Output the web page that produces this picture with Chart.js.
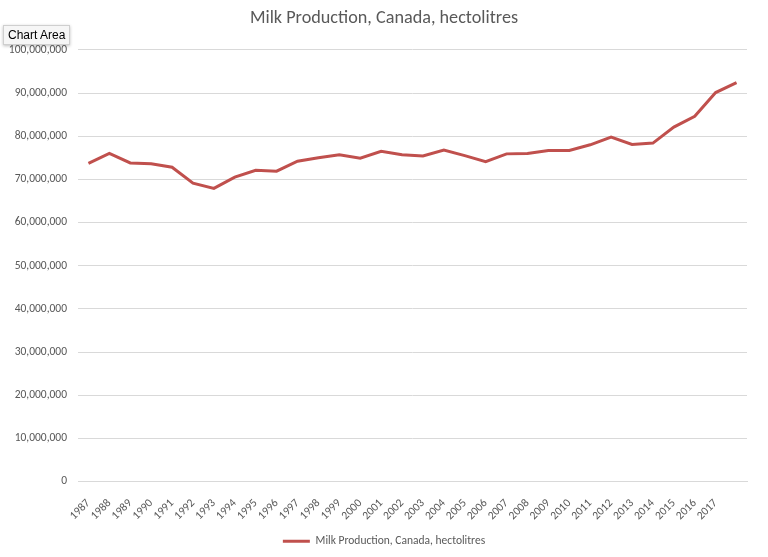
<!DOCTYPE html>
<html>
<head>
<meta charset="utf-8">
<script src="https://cdn.jsdelivr.net/npm/chart.js@4"></script>
<style>
  body { margin: 0; background: #fff; }
  #wrap { position: relative; width: 768px; height: 557px; }
  #tip {
    position: absolute; left: 3px; top: 25px; padding: 2px 4px;
    font: 12px "Liberation Sans", Arial, sans-serif; color: #000;
    background: #f6f6f6; border: 1px solid #cfcfcf;
    box-shadow: 0 1px 3px rgba(0,0,0,0.25);
  }
</style>
</head>
<body>
<div id="wrap">
  <canvas id="chartMilk"></canvas>
  <div id="tip">Chart Area</div>
</div>
<script>
// categories (last one has no label in the original)
const years = ['1987', '1988', '1989', '1990', '1991', '1992', '1993', '1994', '1995', '1996',
  '1997', '1998', '1999', '2000', '2001', '2002', '2003', '2004', '2005', '2006',
  '2007', '2008', '2009', '2010', '2011', '2012', '2013', '2014', '2015', '2016', '2017', ''];

// hectolitres
const production = [73700000, 76000000, 73800000, 73600000, 72800000, 69100000, 67900000, 70500000,
  72100000, 71900000, 74200000, 75000000, 75700000, 74900000, 76500000, 75700000,
  75400000, 76800000, 75500000, 74100000, 75900000, 76000000, 76700000, 76700000,
  78000000, 79800000, 78100000, 78400000, 82100000, 84600000, 90100000, 92400000];

const yTicks = [0, 10000000, 20000000, 30000000, 40000000, 50000000,
  60000000, 70000000, 80000000, 90000000, 100000000];

const seriesName = 'Milk Production, Canada, hectolitres';
const fontFam = 'Carlito, Lato, "Open Sans", sans-serif';

const ctxMilk = document.getElementById('chartMilk').getContext('2d');
new Chart(ctxMilk, {
  type: 'line',
  data: {
    labels: years,
    datasets: [{
      label: seriesName,
      data: production,
      borderColor: '#c0504d',
      backgroundColor: '#c0504d',
      borderWidth: 3,
      pointRadius: 0,
      tension: 0
    }]
  },
  options: {
    responsive: true,
    maintainAspectRatio: false,
    animation: false,
    scales: {
      x: {
        offset: true,
        grid: { display: false },
        border: { display: true, color: '#d9d9d9' },
        ticks: {
          autoSkip: false,
          minRotation: 45,
          maxRotation: 45,
          padding: 7,
          color: '#595959',
          font: { family: fontFam, size: 11.5 }
        },
        afterFit: (scale) => { scale.height = 52; }
      },
      y: {
        min: 0,
        max: 100000000,
        afterBuildTicks: (scale) => { scale.ticks = yTicks.map(v => ({ value: v })); },
        grid: { color: '#d9d9d9', drawTicks: false },
        border: { display: false },
        ticks: {
          padding: 11,
          color: '#595959',
          font: { family: fontFam, size: 11.5 },
          callback: (v) => v.toLocaleString('en-US')
        },
        afterFit: (scale) => { scale.width = 78; }
      },
      // empty right-hand spacer so title and legend stay centred on the page
      yRight: {
        position: 'right',
        grid: { display: false },
        border: { display: false },
        ticks: { display: false },
        afterFit: (scale) => { scale.width = 21; }
      }
    },
    plugins: {
      title: {
        display: true,
        text: seriesName,
        color: '#595959',
        font: { family: fontFam, size: 18.2, weight: 'normal' },
        padding: { top: 8, bottom: 20 }
      },
      legend: {
        position: 'bottom',
        labels: {
          usePointStyle: true,
          pointStyle: 'line',
          pointStyleWidth: 27,
          padding: 2,
          color: '#595959',
          font: { family: fontFam, size: 11.5 }
        }
      },
      tooltip: { enabled: false }
    }
  }
});
</script>
</body>
</html>
